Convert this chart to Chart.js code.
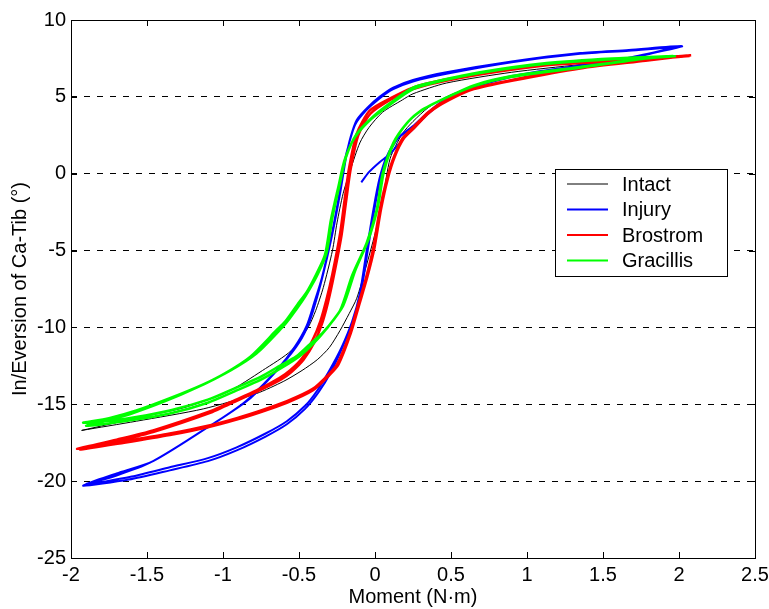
<!DOCTYPE html>
<html>
<head>
<meta charset="utf-8">
<script src="https://cdn.jsdelivr.net/npm/chart.js@4/dist/chart.umd.min.js"></script>
<style>
  html, body { margin: 0; padding: 0; background: #fff; }
  #wrap { width: 769px; height: 609px; position: relative; }
</style>
</head>
<body>
<div id="wrap"><canvas id="chart"></canvas></div>
<script>
// tick values
const xTicks = [-2, -1.5, -1, -0.5, 0, 0.5, 1, 1.5, 2, 2.5];
const yTicks = [-25, -20, -15, -10, -5, 0, 5, 10];

// series names
const seriesNames = ["Intact", "Injury", "Brostrom", "Gracillis"];

// [moment, angle] pairs, in recording order
const intactPts = [
  [-1.93,-16.7],[-1.57,-16.1],[-1.13,-15.3],[-0.78,-14.3],[-0.6,-13.5],[-0.48,-12.8],[-0.38,-12.1],[-0.3,-11.3],
  [-0.23,-10.2],[-0.17,-9.1],[-0.12,-8.1],[-0.06,-6.1],[0,-3.9],[0.05,-1.7],[0.1,1],[0.18,2.6],[0.25,3.4],
  [0.35,4.3],[0.47,5],[0.65,5.7],[0.9,6.3],[1.35,6.9],[1.7,7.3],[2.05,7.7],
  [1.7,7.45],[1.35,7.1],[0.9,6.6],[0.47,5.9],[0.25,5.2],[0.18,4.8],[0.05,4],[-0.04,3],[-0.1,2],[-0.16,0.3],
  [-0.21,-1.3],[-0.25,-3.2],[-0.28,-5],[-0.34,-7.4],[-0.39,-8.9],[-0.44,-10],[-0.55,-11.5],[-0.74,-12.8],
  [-0.97,-14.2],[-1.25,-15.2],[-1.57,-15.9],[-1.93,-16.7]
];

const injuryPts = [
  [-0.09,-0.56],[-0.04,0.1],[0.03,0.75],[0.1,1.3],[0.18,2.2],[0.25,2.9],[0.35,3.9],[0.47,4.8],[0.65,5.6],
  [0.9,6.3],[1.1,6.7],[1.35,7],[1.67,7.5],[1.85,7.9],[2.02,8.3],
  [1.67,8.05],[1.35,7.85],[0.9,7.3],[0.47,6.6],[0.25,6.1],[0.12,5.6],[0.03,5],[-0.05,4.3],[-0.12,3.5],
  [-0.16,2.4],[-0.19,1.1],[-0.23,-1.3],[-0.28,-3.9],[-0.34,-6.5],[-0.38,-8],[-0.43,-9.6],[-0.5,-11],
  [-0.61,-12.4],[-0.82,-14.6],[-1.07,-16.3],[-1.46,-18.7],[-1.7,-19.5],[-1.9,-20.2],
  [-1.6,-19.7],[-1.35,-19.1],[-1.1,-18.5],[-0.91,-17.8],[-0.72,-16.9],[-0.58,-16.1],[-0.46,-15.1],
  [-0.38,-14.1],[-0.3,-12.8],[-0.22,-11.3],[-0.15,-9.6],[-0.1,-7.8],[-0.055,-5],[-0.01,-2.3],[0.03,-0.3],
  [0.076,1.1],[0.15,2.3],[0.25,3],[0.35,4],[0.47,4.85],[0.65,5.65],[0.9,6.3],[1.1,6.7],[1.35,7],
  [1.67,7.5],[1.85,7.9],[2,8.25],
  [1.67,8],[1.35,7.8],[0.9,7.25],[0.47,6.5],[0.25,6],[0.12,5.5],[0.03,4.9],[-0.06,4.1],[-0.13,3.2],
  [-0.17,2],[-0.2,0.8],[-0.24,-1.6],[-0.29,-4.2],[-0.35,-6.8],[-0.4,-8.4],[-0.45,-9.9],[-0.53,-11.3],
  [-0.64,-12.7],[-0.85,-14.8],[-1.1,-16.5],[-1.48,-18.8],[-1.72,-19.7],[-1.92,-20.3],
  [-1.62,-19.9],[-1.35,-19.3],[-1.1,-18.7],[-0.91,-18],[-0.72,-17.1],[-0.58,-16.3],[-0.46,-15.3],
  [-0.37,-14.2],[-0.29,-12.9],[-0.21,-11.2],[-0.14,-9.4],[-0.09,-7.6],[-0.045,-4.8],[0,-2.1],[0.04,-0.1],
  [0.085,1.2],[0.16,2.4],[0.25,3.1],[0.35,4],[0.47,4.9],[0.65,5.7],[0.9,6.35],[1.35,7.05],[1.67,7.55],[2.02,8.3]
];

const brostromPts = [
  [2.08,7.7],[1.78,7.5],[1.45,7.3],[1.13,7.1],[0.69,6.5],[0.4,6],[0.25,5.6],[0.1,4.9],[-0.035,4.1],
  [-0.12,2.6],[-0.17,0.4],[-0.2,-1.7],[-0.23,-3.9],[-0.28,-6.5],[-0.32,-8.2],[-0.36,-9.6],[-0.41,-10.8],
  [-0.48,-12],[-0.56,-12.8],[-0.63,-13.3],[-0.78,-14.1],[-0.96,-14.9],[-1.07,-15.4],[-1.46,-16.7],
  [-1.7,-17.3],[-1.96,-17.9],
  [-1.65,-17.4],[-1.35,-16.9],[-1.1,-16.4],[-0.91,-15.9],[-0.75,-15.4],[-0.58,-14.8],[-0.41,-14],
  [-0.3,-13],[-0.25,-12.4],[-0.17,-10.5],[-0.11,-8.5],[-0.06,-6.8],[-0.015,-5],[0.03,-2.4],[0.076,-0.4],
  [0.12,1],[0.18,2.3],[0.25,3],[0.35,4],[0.47,4.8],[0.65,5.55],[0.9,6.1],[1.1,6.5],[1.35,6.9],
  [1.78,7.4],[2.07,7.65],
  [1.78,7.45],[1.45,7.25],[1.13,7.05],[0.69,6.45],[0.4,5.9],[0.25,5.5],[0.1,4.8],[-0.03,3.9],[-0.11,2.5],
  [-0.16,0.3],[-0.19,-1.8],[-0.22,-4],[-0.27,-6.6],[-0.31,-8.4],[-0.35,-9.8],[-0.4,-11],[-0.47,-12.1],
  [-0.55,-12.9],[-0.62,-13.4],[-0.78,-14.2],[-0.96,-15],[-1.07,-15.5],[-1.46,-16.8],[-1.7,-17.4],[-1.94,-17.95],
  [-1.65,-17.5],[-1.35,-17],[-1.1,-16.5],[-0.91,-16],[-0.75,-15.5],[-0.58,-14.9],[-0.41,-14.1],
  [-0.3,-13.1],[-0.24,-12.4],[-0.16,-10.4],[-0.1,-8.4],[-0.05,-6.7],[-0.005,-4.9],[0.04,-2.3],[0.085,-0.3],
  [0.13,1.1],[0.19,2.3],[0.26,3],[0.36,4],[0.48,4.75],[0.65,5.5],[0.9,6.05],[1.35,6.85],[1.78,7.35],[2.08,7.7]
];

const gracillisPts = [
  [1.96,7.65],[1.56,7.5],[1.13,7.2],[0.69,6.6],[0.4,6],[0.25,5.6],[0.1,4.6],[-0.015,3.7],[-0.12,2.6],
  [-0.19,1.1],[-0.23,-0.6],[-0.28,-2.85],[-0.32,-5.2],[-0.38,-6.6],[-0.43,-7.5],[-0.48,-8.3],[-0.56,-9.4],
  [-0.61,-10],[-0.78,-11.7],[-0.95,-12.8],[-1.13,-13.7],[-1.35,-14.6],[-1.57,-15.4],[-1.75,-15.9],[-1.92,-16.2],
  [-1.65,-15.95],[-1.35,-15.4],[-1.1,-14.7],[-0.91,-13.9],[-0.75,-13.2],[-0.61,-12.4],[-0.52,-11.9],
  [-0.43,-11.1],[-0.34,-10.3],[-0.23,-8.9],[-0.15,-6.6],[-0.055,-4.5],[0.01,-2.4],[0.05,0],[0.12,2],
  [0.21,3.3],[0.3,4.1],[0.47,4.95],[0.65,5.7],[0.9,6.3],[1.35,6.9],[1.78,7.5],[1.96,7.65],
  [1.56,7.45],[1.13,7.15],[0.69,6.55],[0.4,5.95],[0.25,5.5],[0.1,4.5],[-0.02,3.6],[-0.13,2.4],
  [-0.2,0.9],[-0.24,-0.8],[-0.29,-3],[-0.33,-5.3],[-0.4,-6.8],[-0.45,-7.7],[-0.51,-8.5],[-0.59,-9.6],
  [-0.65,-10.2],[-0.82,-11.9],[-0.99,-13],[-1.17,-13.9],[-1.38,-14.8],[-1.6,-15.6],[-1.78,-16.1],[-1.9,-16.4],
  [-1.65,-16.1],[-1.35,-15.6],[-1.1,-14.9],[-0.91,-14.1],[-0.75,-13.4],[-0.61,-12.6],[-0.5,-11.9],
  [-0.41,-11.1],[-0.32,-10.1],[-0.21,-8.6],[-0.13,-6.3],[-0.04,-4.2],[0.02,-2.1],[0.06,0.2],[0.13,2.1],
  [0.22,3.4],[0.32,4.2],[0.48,5],[0.65,5.75],[0.9,6.35],[1.35,6.95],[1.78,7.5],[1.98,7.65]
];

const seriesColors = ["#000000", "#0000ff", "#ff0000", "#00ff00"];
const seriesWidths = [1, 2, 2.5, 2.5];
const seriesPts = [intactPts, injuryPts, brostromPts, gracillisPts];

const FONT = "'Liberation Sans', Arial, sans-serif";

// inner tick marks, axes box and the boxed legend, MATLAB style
const framePlugin = {
  id: "frame",
  afterDatasetsDraw(chart) {
    const { ctx, chartArea: a, scales } = chart;
    ctx.save();
    ctx.strokeStyle = "#000";
    ctx.lineWidth = 1;
    ctx.setLineDash([]);
    ctx.beginPath();
    xTicks.forEach((v) => {
      const px = Math.round(scales.x.getPixelForValue(v)) + 0.5;
      ctx.moveTo(px, a.bottom); ctx.lineTo(px, a.bottom - 6);
      ctx.moveTo(px, a.top); ctx.lineTo(px, a.top + 6);
    });
    yTicks.forEach((v) => {
      const py = Math.round(scales.y.getPixelForValue(v)) + 0.5;
      ctx.moveTo(a.left, py); ctx.lineTo(a.left + 6, py);
      ctx.moveTo(a.right, py); ctx.lineTo(a.right - 6, py);
    });
    ctx.stroke();
    ctx.strokeRect(Math.round(a.left) + 0.5, Math.round(a.top) + 0.5,
      Math.round(a.right - a.left), Math.round(a.bottom - a.top));

    // legend box
    const bx = 555, by = 169, bw = 172, bh = 107;
    ctx.fillStyle = "#fff";
    ctx.fillRect(bx, by, bw, bh);
    ctx.strokeRect(bx + 0.5, by + 0.5, bw, bh);
    ctx.font = "20px " + FONT;
    ctx.textBaseline = "middle";
    ctx.textAlign = "left";
    seriesNames.forEach((name, i) => {
      const y = by + 15 + i * 25.5;
      ctx.strokeStyle = seriesColors[i];
      ctx.lineWidth = seriesWidths[i] > 1 ? 2 : 1;
      ctx.beginPath();
      ctx.moveTo(567, y); ctx.lineTo(608, y);
      ctx.stroke();
      ctx.fillStyle = "#000";
      ctx.fillText(name, 622, y + 1);
    });
    ctx.restore();
  }
};

const datasets = seriesNames.map((name, i) => ({
  label: name,
  data: seriesPts[i].map((p) => ({ x: p[0], y: p[1] })),
  borderColor: seriesColors[i],
  backgroundColor: seriesColors[i],
  borderWidth: seriesWidths[i],
  showLine: true,
  fill: false,
  pointRadius: 0,
  tension: 0.25,
  borderJoinStyle: "round",
  order: seriesNames.length - i
}));

new Chart(document.getElementById("chart"), {
  type: "scatter",
  data: { datasets },
  options: {
    responsive: true,
    maintainAspectRatio: false,
    animation: false,
    layout: { padding: { left: 0, top: 20, right: 14, bottom: 0 } },
    plugins: {
      legend: { display: false },
      tooltip: { enabled: false }
    },
    scales: {
      x: {
        type: "linear",
        min: -2,
        max: 2.5,
        afterBuildTicks: (s) => { s.ticks = xTicks.map((v) => ({ value: v })); },
        afterFit: (s) => {
          s.height = 51;
          s.paddingLeft = 0;
          s.paddingRight = 0;
        },
        ticks: {
          color: "#000",
          font: { family: FONT, size: 20 },
          padding: 5,
          maxRotation: 0,
          callback: (v) => String(v)
        },
        grid: { display: false, drawTicks: false },
        border: { display: false },
        title: {
          display: true,
          text: "Moment (N·m)",
          color: "#000",
          font: { family: FONT, size: 20 },
          padding: { top: 0, bottom: 0 }
        }
      },
      y: {
        type: "linear",
        min: -25,
        max: 10,
        afterBuildTicks: (s) => { s.ticks = yTicks.map((v) => ({ value: v })); },
        afterFit: (s) => {
          s.width = 71;
          s.paddingTop = 0;
          s.paddingBottom = 0;
        },
        ticks: {
          color: "#000",
          font: { family: FONT, size: 20 },
          padding: 5,
          callback: (v) => String(v)
        },
        grid: {
          color: "#000",
          lineWidth: 1,
          drawTicks: false
        },
        border: { display: false, dash: [6, 7] },
        title: {
          display: true,
          text: "In/Eversion of Ca-Tib (°)",
          color: "#000",
          font: { family: FONT, size: 20 },
          padding: { top: 8, bottom: 0 }
        }
      }
    }
  },
  plugins: [framePlugin]
});
</script>
</body>
</html>
